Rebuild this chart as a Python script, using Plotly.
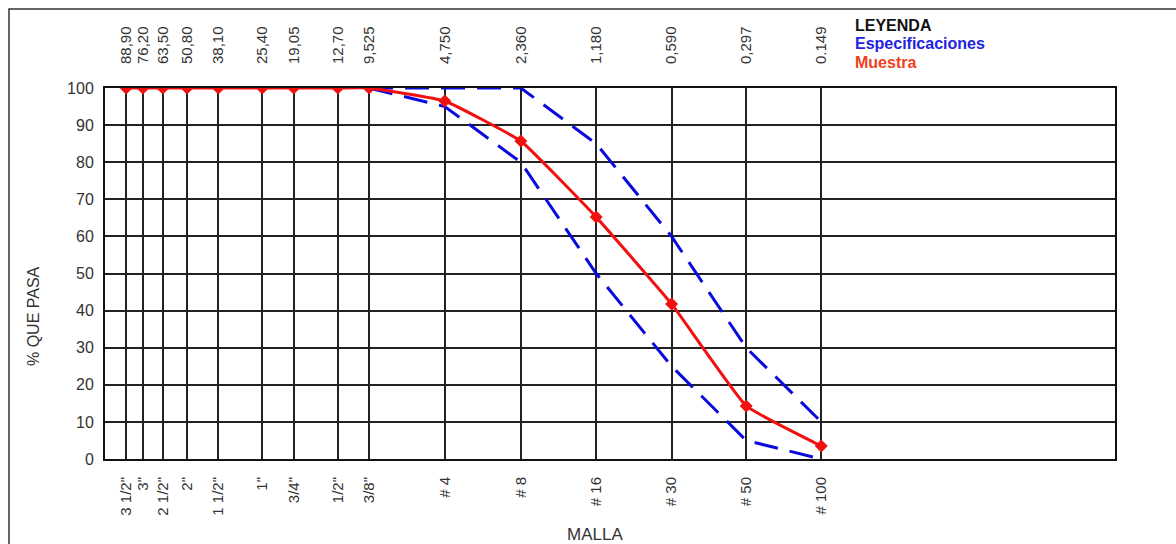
import math
import plotly.graph_objects as go

# --- data ---
sieve_sizes = [88.90, 76.20, 63.50, 50.80, 38.10, 25.40, 19.05, 12.70, 9.525, 4.750, 2.360, 1.180, 0.590, 0.297, 0.149]
size_labels = ["88,90", "76,20", "63,50", "50,80", "38,10", "25,40", "19,05", "12,70", "9,525", "4,750", "2,360", "1,180", "0,590", "0,297", "0.149"]
sieve_names = ['3 1/2"', '3"', '2 1/2"', '2"', '1 1/2"', '1"', '3/4"', '1/2"', '3/8"', "# 4", "# 8", "# 16", "# 30", "# 50", "# 100"]

sample_pass = [100, 100, 100, 100, 100, 100, 100, 100, 100, 96.5, 85.7, 65.2, 41.8, 14.3, 3.5]

spec_sizes = [9.525, 4.750, 2.360, 1.180, 0.590, 0.297, 0.149]
spec_upper = [100, 100, 100, 85, 60, 30, 10]
spec_lower = [100, 95, 80, 50, 25, 5, 0]

# --- layout constants (pixels) ---
W, H = 1176, 544
L, R, T, B = 105, 61, 88, 85
pw, ph = W - L - R, H - T - B

def px(x):
    return (x - L) / pw

def py(y):
    return (H - B - y) / ph

FONT = "Liberation Sans, Arial, sans-serif"
BLUE = "#0A0ADC"
RED = "#F01010"

fig = go.Figure()

fig.add_trace(go.Scatter(x=spec_sizes, y=spec_upper, mode="lines",
                         line=dict(color=BLUE, width=3, dash="24px,12px"),
                         name="Especificaciones", showlegend=False))
fig.add_trace(go.Scatter(x=spec_sizes, y=spec_lower, mode="lines",
                         line=dict(color=BLUE, width=3, dash="24px,12px"),
                         name="Especificaciones", showlegend=False))
fig.add_trace(go.Scatter(x=sieve_sizes, y=sample_pass, mode="lines+markers",
                         line=dict(color=RED, width=3, shape="spline", smoothing=0.3),
                         marker=dict(symbol="diamond", size=10, color=RED),
                         name="Muestra", showlegend=False))
# invisible trace to activate top axis
fig.add_trace(go.Scatter(x=sieve_sizes, y=sample_pass, xaxis="x2", mode="markers",
                         marker=dict(opacity=0), hoverinfo="skip", showlegend=False))

xrange = [math.log10(108), -2.0]

fig.update_layout(
    width=W, height=H,
    margin=dict(l=L, r=R, t=T, b=B, autoexpand=False),
    paper_bgcolor="white", plot_bgcolor="white",
    font=dict(family=FONT, size=14, color="#333"),
    xaxis=dict(type="log", range=xrange, tickmode="array",
               tickvals=sieve_sizes, ticktext=sieve_names, tickangle=-90,
               showgrid=True, gridcolor="#222", gridwidth=1.5,
               showline=True, linecolor="#111", linewidth=2, mirror=True,
               ticks="outside", ticklen=10, tickcolor="rgba(0,0,0,0)",
               tickfont=dict(size=15, color="#333", family=FONT), zeroline=False),
    xaxis2=dict(type="log", range=xrange, overlaying="x", side="top",
                tickmode="array", tickvals=sieve_sizes, ticktext=size_labels,
                tickangle=-90, showgrid=False, showline=False,
                ticks="outside", ticklen=20, tickcolor="rgba(0,0,0,0)",
                tickfont=dict(size=15, color="#333", family=FONT)),
    yaxis=dict(range=[0, 100], tickmode="linear", tick0=0, dtick=10,
               showgrid=True, gridcolor="#222", gridwidth=1.5,
               showline=True, linecolor="#111", linewidth=2, mirror=True,
               ticks="outside", ticklen=6, tickcolor="rgba(0,0,0,0)",
               tickfont=dict(size=16, color="#333", family=FONT), zeroline=False),
)

annotations = [
    dict(text="LEYENDA", x=px(853), y=py(26), color="#111"),
    dict(text="Especificaciones", x=px(853), y=py(44), color="#2222E0"),
    dict(text="Muestra", x=px(853), y=py(62), color="#F04020"),
]
for a in annotations:
    fig.add_annotation(text="<b>%s</b>" % a["text"], xref="paper", yref="paper",
                       x=a["x"], y=a["y"], xanchor="left", yanchor="middle",
                       showarrow=False, font=dict(size=16, color=a["color"], family=FONT))

fig.add_annotation(text="% QUE PASA", xref="paper", yref="paper", x=px(33), y=py(316),
                   textangle=-90, showarrow=False, xanchor="center", yanchor="middle",
                   font=dict(size=16, color="#333", family=FONT))
fig.add_annotation(text="MALLA", xref="paper", yref="paper", x=px(595), y=py(534),
                   showarrow=False, xanchor="center", yanchor="middle",
                   font=dict(size=17, color="#333", family=FONT))

# outer frame
fig.add_shape(type="rect", xref="paper", yref="paper",
              x0=px(9), x1=px(1190), y0=py(560), y1=py(9),
              line=dict(color="#333", width=1.5), layer="below")

fig.write_html("out.html", config={"displayModeBar": False},
               post_script="document.body.style.margin='0';document.body.style.overflow='hidden';")
